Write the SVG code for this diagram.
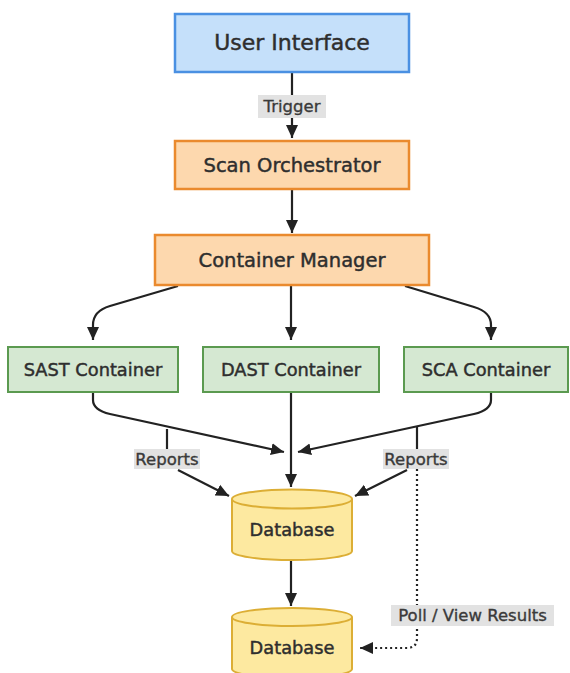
<svg xmlns="http://www.w3.org/2000/svg" width="570" height="673" viewBox="0 0 570 673">
<defs>
<marker id="ah" markerUnits="userSpaceOnUse" markerWidth="14" markerHeight="14" viewBox="0 0 14 14" refX="13" refY="7" orient="auto">
<path d="M0,1 L13,7 L0,13 Z" fill="#222"/>
</marker>
</defs>
<style>
text{font-family:"DejaVu Sans","Noto Sans",sans-serif;fill:#2e2e2e;stroke:#2e2e2e;stroke-width:0.45;text-anchor:middle}
.blue{fill:#c5e0fa;stroke:#4a90e2;stroke-width:2.5}
.orange{fill:#fdd8ae;stroke:#ea8a2e;stroke-width:2.5}
.green{fill:#d5e8d2;stroke:#5b9a50;stroke-width:2}
.db{fill:#fde9a0;stroke:#dcae35;stroke-width:2}
.e{fill:none;stroke:#222;stroke-width:2.2}
.dot{fill:none;stroke:#222;stroke-width:2.2;stroke-dasharray:2 3}
.lbg{fill:#e2e2e2}
.big{font-size:22px}
.l2{font-size:19.5px}
.mid{font-size:17.8px}
.lbl{font-size:16.5px;fill:#3a3a3a;stroke:#3a3a3a;stroke-width:0.35}
</style>
<rect width="570" height="673" fill="#fff"/>
<g id="connectors">
<path class="e" d="M292,73 L292,138" marker-end="url(#ah)"/>
<path class="e" d="M292,189 L292,233" marker-end="url(#ah)"/>
<path class="e" d="M178,286 L110,306 Q93,311 93,325 L93,340" marker-end="url(#ah)"/>
<path class="e" d="M291,286 L291,340" marker-end="url(#ah)"/>
<path class="e" d="M405,286 L474,307 Q491,312 491,325 L491,340" marker-end="url(#ah)"/>
<path class="e" d="M93,392 L93,400 Q93,410 110,414 L284,452" marker-end="url(#ah)"/>
<path class="e" d="M491,392 L491,400 Q491,410 474,414 L298,452" marker-end="url(#ah)"/>
<path class="e" d="M291,392 L291,487" marker-end="url(#ah)"/>
<path class="e" d="M167,429 L167,449"/>
<path class="e" d="M178,470 L229,496" marker-end="url(#ah)"/>
<path class="e" d="M417,427 L417,449"/>
<path class="e" d="M407,470 L355,496" marker-end="url(#ah)"/>
<path class="dot" d="M417,469 L417,638 Q417,648 407,648 L360,648" marker-end="url(#ah)"/>
<path class="e" d="M291,560 L291,606" marker-end="url(#ah)"/>
<rect class="lbg" x="258" y="95" width="68" height="23"/>
<text class="lbl" x="292" y="112">Trigger</text>
<rect class="lbg" x="134" y="449" width="66" height="20"/>
<text class="lbl" x="167" y="465">Reports</text>
<rect class="lbg" x="383" y="449" width="66" height="20"/>
<text class="lbl" x="416" y="465">Reports</text>
<rect class="lbg" x="391" y="605" width="163" height="21"/>
<text class="lbl" x="472.5" y="621">Poll / View Results</text>
</g>
<g id="ui"><rect class="blue" x="175" y="14" width="234" height="58"/><text class="big" x="292" y="50">User Interface</text></g>
<g id="orch"><rect class="orange" x="175" y="141" width="234" height="48"/><text class="l2" x="292" y="172">Scan Orchestrator</text></g>
<g id="cm"><rect class="orange" x="155" y="235" width="274" height="50"/><text class="l2" x="292" y="267">Container Manager</text></g>
<g id="sast"><rect class="green" x="8" y="347" width="170" height="45"/><text class="mid" x="93" y="376">SAST Container</text></g>
<g id="dast"><rect class="green" x="203" y="347" width="176" height="45"/><text class="mid" x="291" y="376">DAST Container</text></g>
<g id="sca"><rect class="green" x="404" y="347" width="164" height="45"/><text class="mid" x="486" y="376">SCA Container</text></g>
<g id="db1">
<path class="db" d="M232,499 L232,551 A60,9 0 0 0 352,551 L352,499"/>
<ellipse class="db" cx="292" cy="499" rx="60" ry="9.5"/>
<text class="mid" x="292" y="536">Database</text>
</g>
<g id="db2">
<path class="db" d="M232,617 L232,669 A60,9 0 0 0 352,669 L352,617"/>
<ellipse class="db" cx="292" cy="617" rx="60" ry="9"/>
<text class="mid" x="292" y="654">Database</text>
</g>
</svg>
